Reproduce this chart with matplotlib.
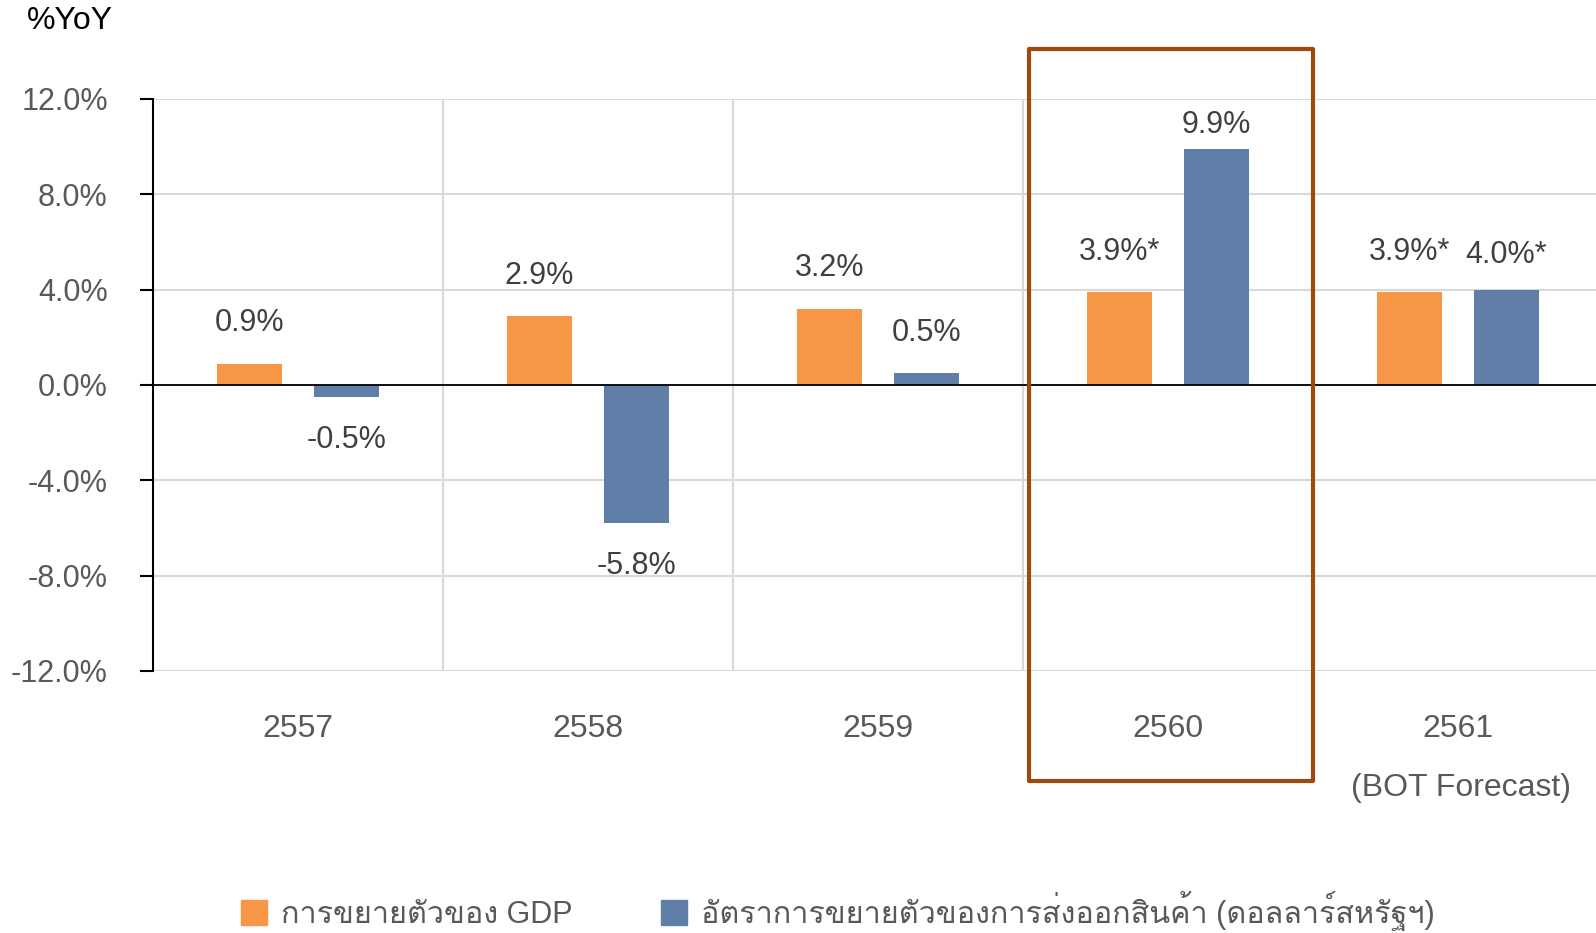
import numpy as np
import matplotlib
matplotlib.use("Agg")
import matplotlib.pyplot as plt
import matplotlib.transforms as mtransforms
from matplotlib.patches import Rectangle, Patch
from matplotlib import font_manager
from matplotlib.ft2font import FT2Font

# =========================
# DATA
# =========================
years = ["2557", "2558", "2559", "2560", "2561"]
gdp_growth = [0.9, 2.9, 3.2, 3.9, 3.9]
export_growth = [-0.5, -5.8, 0.5, 9.9, 4.0]
gdp_estimate = [False, False, False, True, True]
export_estimate = [False, False, False, False, True]

gdp_label = "การขยายตัวของ GDP"
export_label = "อัตราการขยายตัวของการส่งออกสินค้า (ดอลลาร์สหรัฐฯ)"
y_ticks = [-12, -8, -4, 0, 4, 8, 12]

ORANGE = "#F79646"
BLUE = "#607FA8"
BROWN = "#9C4A0E"


# =========================
# FONTS (need one with Thai glyphs)
# =========================
def find_thai_font():
    for f in font_manager.fontManager.ttflist:
        try:
            if 0x0E01 in FT2Font(f.fname).get_charmap():
                return f.name
        except Exception:
            pass
    return None


families = ["Liberation Sans", "DejaVu Sans"]
thai = find_thai_font()
if thai:
    families.insert(1, thai)
plt.rcParams["font.family"] = families

# =========================
# PLOT
# =========================
fig = plt.figure(figsize=(15.96, 9.33), dpi=100)
ax = fig.add_axes([153 / 1596, 1 - 671 / 933, 1450 / 1596, 572 / 933])

x = np.arange(len(years))
w = 0.225
off = 0.167

ax.bar(x - off, gdp_growth, width=w, color=ORANGE, zorder=3)
ax.bar(x + off, export_growth, width=w, color=BLUE, zorder=3)

ax.set_xlim(-0.5, 4.5)
ax.set_ylim(-12, 12)

# grid
for yt in y_ticks:
    ax.axhline(yt, color="#D9D9D9", lw=1.5, zorder=1)
for xb in np.arange(0.5, 4.5, 1.0):
    ax.axvline(xb, color="#D9D9D9", lw=1.5, zorder=1)
ax.axhline(0, color="black", lw=1.3, zorder=4)

for s in ["top", "right", "bottom"]:
    ax.spines[s].set_visible(False)
ax.spines["left"].set_linewidth(1.5)
ax.spines["left"].set_zorder(5)

ax.set_yticks(y_ticks)
ax.set_yticklabels([f"{v:.1f}%" for v in y_ticks])
ax.tick_params(axis="y", direction="out", length=9.5, width=1.5,
               labelsize=22, labelcolor="#595959", pad=23)
ax.set_xticks(x)
ax.set_xticklabels(years)
ax.tick_params(axis="x", length=0, labelsize=23, labelcolor="#595959", pad=31)

# data labels
nudge = {(1, 3): -12, (1, 4): -4}
for i in range(len(years)):
    for k, (vals, est, dx) in enumerate([(gdp_growth, gdp_estimate, -off),
                                         (export_growth, export_estimate, off)]):
        v = vals[i]
        txt = f"{v:.1f}%" + ("*" if est[i] else "")
        dy = 29 + nudge.get((k, i), 0) if v >= 0 else -31
        ax.annotate(txt, (x[i] + dx, v), xytext=(0, dy),
                    textcoords="offset points", ha="center", va="center",
                    fontsize=22, color="#404040", zorder=6)

# forecast note
trans = mtransforms.blended_transform_factory(ax.transData, fig.transFigure)
ax.text(4.01, 1 - 788 / 933, "(BOT Forecast)", transform=trans, ha="center",
        va="center", fontsize=23, color="#595959")

# highlight box around 2560
box = Rectangle((2.52, 1 - 781 / 933), 0.98, (781 - 49) / 933, transform=trans,
                fill=False, edgecolor=BROWN, lw=3, clip_on=False, zorder=7,
                joinstyle="round")
ax.add_patch(box)

fig.text(27 / 1596, 1 - 21 / 933, "%YoY", ha="left", va="center",
         fontsize=23, color="black")

handles = [Patch(color=ORANGE, label=gdp_label),
           Patch(color=BLUE, label=export_label)]
fig.legend(handles=handles, loc="center", bbox_to_anchor=(838 / 1596, 1 - 911 / 933),
           ncol=2, frameon=False, fontsize=22, handlelength=0.86, handleheight=0.86,
           handletextpad=0.45, columnspacing=2.9, labelcolor="#595959")

fig.savefig("out.png", dpi=100)
